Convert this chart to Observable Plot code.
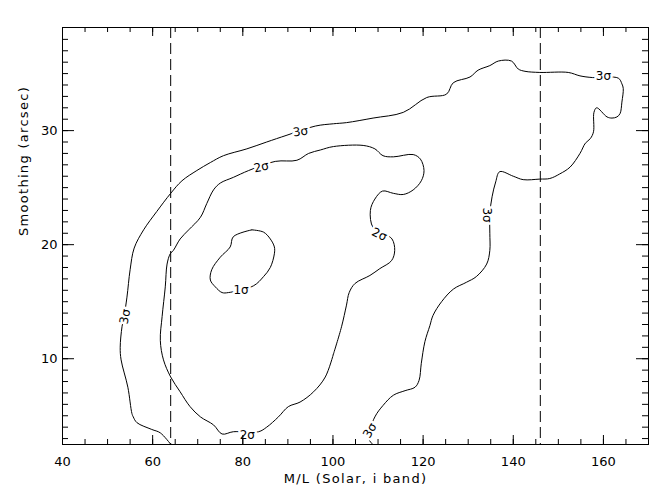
<!DOCTYPE html>
<html>
<head>
<meta charset="utf-8">
<script src="https://cdn.jsdelivr.net/npm/d3@7"></script>
<script src="https://cdn.jsdelivr.net/npm/@observablehq/plot@0.6"></script>
<style>
  html, body { margin: 0; padding: 0; background: #fff; }
</style>
</head>
<body>
<div id="chart"></div>
<script>
// ---- data ----
const xTitle = "M/L (Solar, i band)";
const yTitle = "Smoothing (arcsec)";
const xDomain = [40, 170];
const yDomain = [2.48, 39.04];
const xMajorTicks = [40, 60, 80, 100, 120, 140, 160];
const xMinorTicks = d3.range(40, 171, 5);
const yMajorTicks = [10, 20, 30];
const yMinorTicks = d3.range(3, 39, 1);
const dashedX = [64, 146];

// 1 sigma contour (closed)
const sigma1X = [82.0, 77.9, 77.2, 75.0, 73.1, 72.8, 73.9, 75.4, 76.8, 82.4, 84.6, 86.1, 87.0, 87.0, 86.1, 84.6, 82.0];
const sigma1Y = [21.3, 20.7, 19.8, 18.9, 17.8, 16.9, 16.3, 15.8, 15.8, 16.4, 17.2, 18.0, 19.2, 19.8, 20.5, 21.1, 21.3];

// 2 sigma contour (closed)
const sigma2X = [100.1, 98.3, 95.7, 92.7, 90.1, 87.9, 85.3, 83.5, 77.9, 75.4,
  73.5, 70.6, 68.3, 66.1, 64.0, 62.4, 61.7, 62.1, 62.8, 63.2,
  63.9, 64.6, 66.1, 68.0, 70.6, 72.0, 73.5, 75.0, 77.9, 81.3,
  87.2, 92.0, 94.6, 97.2, 100.1, 106.7, 109.3, 111.1, 113.4, 117.8,
  119.4, 120.2, 119.6, 117.8, 115.6, 113.4, 111.0, 109.3,
  108.3, 108.9, 111.2, 113.1, 113.7, 113.0, 110.4, 108.2, 104.9, 103.6, 103.0, 101.9, 100.1];
const sigma2Y = [10.4, 8.4, 7.1, 6.2, 5.8, 4.9, 4.0, 3.6, 3.6, 3.4,
  4.2, 4.9, 5.8, 7.1, 8.4, 9.9, 11.6, 13.7, 16.3, 18.3,
  19.2, 19.5, 20.5, 21.3, 22.4, 23.6, 24.8, 25.4, 25.9, 26.5,
  27.3, 27.4, 28.0, 28.3, 28.6, 28.7, 28.4, 27.8, 27.7, 27.9,
  27.5, 26.5, 25.6, 24.8, 24.4, 24.5, 24.7, 24.0,
  23.0, 21.5, 21.0, 20.5, 19.5, 18.6, 17.9, 17.3, 16.6, 15.8, 14.7, 12.8, 10.4];

// 3 sigma contour (open, ends on the bottom axis)
const sigma3X = [64.0, 61.7, 59.8, 56.5, 55.7, 55.4, 54.5, 53.0, 52.8, 53.2,
  53.7, 54.3, 55.0, 55.9, 58.0, 60.9, 64.0, 66.5, 69.8, 72.8,
  75.7, 80.9, 85.3, 89.8, 96.1, 100.1, 103.0, 108.9, 115.6, 120.8,
  125.2, 126.7, 130.4, 132.2, 134.8, 136.7, 139.6, 141.1, 142.6, 145.9,
  152.2, 154.8, 157.6, 163.3, 164.1, 164.4, 164.1, 163.7, 163.0, 161.9,
  160.8, 158.5, 157.9, 157.8, 157.1, 156.0, 154.8, 152.6, 150.3, 148.1,
  145.9, 142.2, 140.0, 137.0, 136.1, 135.3, 134.8, 134.8, 134.8, 134.1,
  131.8, 129.6, 126.7, 124.1, 122.2, 121.5, 120.4, 119.6, 119.1, 118.2,
  116.0, 113.4, 111.1, 109.3, 107.8, 108.8];
const sigma3Y = [2.5, 3.5, 3.8, 4.4, 4.9, 5.2, 7.5, 9.9, 11.0, 12.8,
  13.8, 15.4, 17.8, 19.7, 21.3, 22.9, 24.5, 25.6, 26.5, 27.2,
  27.8, 28.4, 29.0, 29.6, 30.4, 30.6, 30.7, 31.1, 31.6, 32.9,
  33.2, 34.2, 34.7, 35.3, 35.7, 36.1, 36.1, 35.4, 35.2, 35.1,
  35.1, 34.8, 34.65, 34.6, 34.1, 33.7, 32.5, 31.5, 31.2, 31.1,
  31.2, 32.0, 31.6, 29.9, 29.3, 28.9, 28.0, 26.8, 26.2, 25.8,
  25.75, 25.7, 26.0, 26.4, 25.5, 24.2, 22.7, 21.0, 19.5, 18.3,
  17.2, 16.7, 16.1, 15.0, 13.8, 12.9, 11.5, 9.6, 8.1, 7.5,
  7.2, 6.8, 5.9, 4.9, 3.1, 2.5];

// contour labels
const labelText = ["1σ", "2σ", "2σ", "2σ", "3σ", "3σ", "3σ", "3σ", "3σ"];
const labelX = [79.6, 84.1, 81.0, 110.3, 53.9, 92.8, 160.0, 134.2, 108.2];
const labelY = [16.0, 26.8, 3.3, 20.9, 13.7, 29.9, 34.8, 22.6, 3.7];
const labelAngle = [0, -12, 0, 25, -80, -8, 0, 90, -60];

// ---- build tables ----
function toPoints(xs, ys, level) {
  return xs.map((x, i) => ({x, y: ys[i], level}));
}
const contours = [
  ...toPoints(sigma1X, sigma1Y, "1"),
  ...toPoints(sigma2X, sigma2Y, "2"),
  ...toPoints(sigma3X, sigma3Y, "3")
];
const labels = labelText.map((t, i) => ({t, x: labelX[i], y: labelY[i], a: labelAngle[i]}));

const W = 666, H = 500;
const mL = 62, mR = 18, mT = 27, mB = 56;
const iW = W - mL - mR, iH = H - mT - mB;

const svg = Plot.plot({
  width: W,
  height: H,
  marginLeft: mL,
  marginRight: mR,
  marginTop: mT,
  marginBottom: mB,
  x: {domain: xDomain},
  y: {domain: yDomain},
  style: {fontFamily: "DejaVu Sans", fontSize: "13px", background: "white", color: "black"},
  marks: [
    Plot.ruleX(dashedX, {stroke: "black", strokeWidth: 1, strokeDasharray: "11,5"}),
    Plot.line(contours, {x: "x", y: "y", z: "level", stroke: "black", strokeWidth: 1, curve: "catmull-rom"}),
    Plot.text(labels, {x: "x", y: "y", text: "t", rotate: "a", fontSize: 12, fill: "white", stroke: "white", strokeWidth: 5}),
    Plot.text(labels, {x: "x", y: "y", text: "t", rotate: "a", fontSize: 12, fill: "black"}),
    Plot.frame({stroke: "black", strokeWidth: 1}),
    // inward ticks on all four sides
    Plot.ruleX(xMajorTicks, {stroke: "black", insetTop: iH - 9}),
    Plot.ruleX(xMajorTicks, {stroke: "black", insetBottom: iH - 9}),
    Plot.ruleX(xMinorTicks, {stroke: "black", insetTop: iH - 5}),
    Plot.ruleX(xMinorTicks, {stroke: "black", insetBottom: iH - 5}),
    Plot.ruleY(yMajorTicks, {stroke: "black", insetRight: iW - 12}),
    Plot.ruleY(yMajorTicks, {stroke: "black", insetLeft: iW - 12}),
    Plot.ruleY(yMinorTicks, {stroke: "black", insetRight: iW - 6}),
    Plot.ruleY(yMinorTicks, {stroke: "black", insetLeft: iW - 6}),
    // tick labels
    Plot.axisX({ticks: xMajorTicks, tickSize: 0, tickPadding: 12, label: null, fontSize: 13}),
    Plot.axisY({ticks: yMajorTicks, tickSize: 0, tickPadding: 5, label: null, fontSize: 13}),
    // axis titles
    Plot.text([xTitle], {text: d => d, frameAnchor: "bottom", dy: 38, fontSize: 13}),
    Plot.text([yTitle], {text: d => d, frameAnchor: "left", dx: -39, rotate: -90, fontSize: 13})
  ]
});
document.getElementById("chart").append(svg);

d3.select(svg).selectAll("text")
  .filter(function () { return this.textContent === xTitle || this.textContent === yTitle; })
  .style("letter-spacing", "1.3px");
</script>
</body>
</html>
